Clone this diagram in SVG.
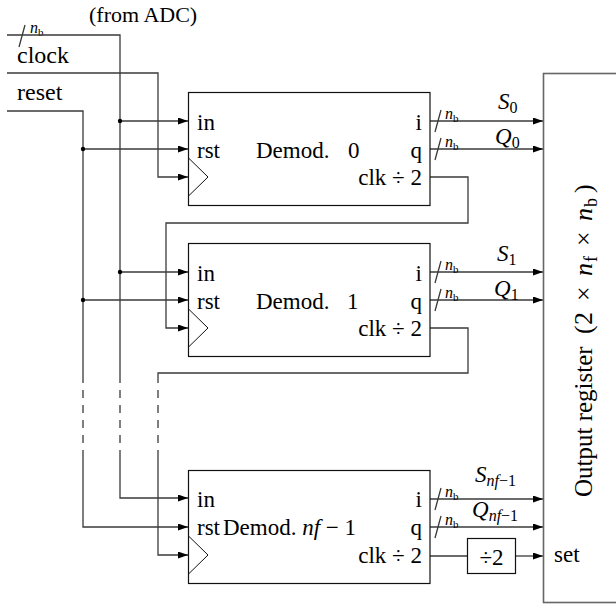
<svg xmlns="http://www.w3.org/2000/svg" width="616" height="608" viewBox="0 0 616 608" font-family="'Liberation Serif', 'Times New Roman', 'DejaVu Serif', serif">
<defs>
<marker id="arr" markerUnits="userSpaceOnUse" markerWidth="11" markerHeight="8" refX="10" refY="3.5" orient="auto">
<path d="M0,0 L10,3.5 L0,7 z" fill="#000"/>
</marker>
<style>
text{fill:#000}
.t{font-size:23px}
.m{font-style:italic}
.lbl{font-size:16px}
.sub{font-size:11px;font-style:normal}
.w{fill:none;stroke:#3a3a3a;stroke-width:1.3}
.a{marker-end:url(#arr)}
.d{stroke-dasharray:8 7}
.blk{fill:#fff;stroke:#111;stroke-width:1.2}
.dot{fill:#000}
</style>
</defs>
<rect width="616" height="608" fill="#fff"/>

<g id="inputs">
<text class="t" x="89" y="22" style="font-size:22px">(from ADC)</text>
<text class="t" x="17" y="63" style="font-size:24px">clock</text>
<text class="t" x="17" y="100" style="font-size:24px">reset</text>
<text class="lbl" x="30" y="33"><tspan class="m">n</tspan><tspan class="sub" dy="3">b</tspan></text>
</g>

<g id="connectors">
<path class="w a" d="M7,35 H120 V383 M120,450 V498 H188"/>
<path class="w a" d="M120,121 H188"/>
<path class="w a" d="M120,272 H188"/>
<path class="w" d="M7,111 H83 V383"/>
<path class="w a" d="M83,450 V527 H188"/>
<path class="w a" d="M83,149 H188"/>
<path class="w a" d="M83,300 H188"/>
<path class="w a" d="M7,73 H158 V177 H188"/>
<path class="w a" d="M430,177 H468 V223 H166 V328 H188"/>
<path class="w" d="M430,328 H468 V373 H158 V383"/>
<path class="w a" d="M158,450 V555 H188"/>
<path class="w d" d="M83,390 V450 M120,390 V450 M158,390 V450"/>
<circle class="dot" cx="120" cy="121" r="2.2"/>
<circle class="dot" cx="120" cy="272" r="2.2"/>
<circle class="dot" cx="83" cy="149" r="2.2"/>
<circle class="dot" cx="83" cy="300" r="2.2"/>
<path class="w" d="M19,47 L25,25"/>
<path class="w a" d="M430,121 H543"/>
<path class="w a" d="M430,149 H543"/>
<path class="w a" d="M430,272 H543"/>
<path class="w a" d="M430,300 H543"/>
<path class="w a" d="M430,499 H543"/>
<path class="w a" d="M430,527 H543"/>
<path class="w" d="M435,132 L441,110 M435,160 L441,138 M435,283 L441,261 M435,311 L441,289 M435,510 L441,488 M435,538 L441,516"/>
<path class="w" d="M430,556 H467"/>
<path class="w a" d="M516,556 H543"/>
</g>

<g id="bus-labels">
<text class="lbl" x="445" y="119"><tspan class="m">n</tspan><tspan class="sub" dy="3">b</tspan></text>
<text class="lbl" x="445" y="147"><tspan class="m">n</tspan><tspan class="sub" dy="3">b</tspan></text>
<text class="lbl" x="445" y="270"><tspan class="m">n</tspan><tspan class="sub" dy="3">b</tspan></text>
<text class="lbl" x="445" y="298"><tspan class="m">n</tspan><tspan class="sub" dy="3">b</tspan></text>
<text class="lbl" x="445" y="497"><tspan class="m">n</tspan><tspan class="sub" dy="3">b</tspan></text>
<text class="lbl" x="445" y="525"><tspan class="m">n</tspan><tspan class="sub" dy="3">b</tspan></text>
<text class="t" x="498" y="109"><tspan class="m">S</tspan><tspan dy="4" style="font-size:16px">0</tspan></text>
<text class="t" x="495" y="144"><tspan class="m">Q</tspan><tspan dy="4" style="font-size:16px">0</tspan></text>
<text class="t" x="497" y="261"><tspan class="m">S</tspan><tspan dy="4" style="font-size:16px">1</tspan></text>
<text class="t" x="494" y="296"><tspan class="m">Q</tspan><tspan dy="4" style="font-size:16px">1</tspan></text>
<text class="t" x="475" y="482"><tspan class="m">S</tspan><tspan dy="4" class="m" style="font-size:16px">nf</tspan><tspan style="font-size:16px">−1</tspan></text>
<text class="t" x="472" y="517"><tspan class="m">Q</tspan><tspan dy="4" class="m" style="font-size:16px">nf</tspan><tspan style="font-size:16px">−1</tspan></text>
</g>

<g id="demod0">
<rect class="blk" x="188.5" y="92.5" width="241.5" height="113"/>
<path class="w" style="stroke:#111;stroke-width:1" d="M188.5,158 L208,177 L188.5,196"/>
<text class="t" x="197" y="130">in</text>
<text class="t" x="197" y="158">rst</text>
<text class="t" x="256" y="158">Demod.</text>
<text class="t" x="348" y="158">0</text>
<text class="t" x="422" y="130" text-anchor="end">i</text>
<text class="t" x="422" y="158" text-anchor="end">q</text>
<text class="t" x="422" y="185" text-anchor="end">clk ÷ 2</text>
</g>

<g id="demod1">
<rect class="blk" x="188.5" y="243.5" width="241.5" height="113"/>
<path class="w" style="stroke:#111;stroke-width:1" d="M188.5,309 L208,328 L188.5,347"/>
<text class="t" x="197" y="281">in</text>
<text class="t" x="197" y="309">rst</text>
<text class="t" x="256" y="309">Demod.</text>
<text class="t" x="347" y="309">1</text>
<text class="t" x="422" y="281" text-anchor="end">i</text>
<text class="t" x="422" y="309" text-anchor="end">q</text>
<text class="t" x="422" y="336" text-anchor="end">clk ÷ 2</text>
</g>

<g id="demodN">
<rect class="blk" x="188.5" y="470.5" width="241.5" height="113"/>
<path class="w" style="stroke:#111;stroke-width:1" d="M188.5,536 L208,555 L188.5,574"/>
<text class="t" x="197" y="507">in</text>
<text class="t" x="197" y="535">rst</text>
<text class="t" x="223" y="535">Demod. <tspan class="m">nf</tspan> − 1</text>
<text class="t" x="422" y="507" text-anchor="end">i</text>
<text class="t" x="422" y="535" text-anchor="end">q</text>
<text class="t" x="422" y="563" text-anchor="end">clk ÷ 2</text>
</g>

<g id="div2">
<rect class="blk" x="467.5" y="538.5" width="48" height="35"/>
<text class="t" x="491.5" y="565" text-anchor="middle">÷2</text>
</g>

<g id="output-register">
<rect x="543.5" y="73.5" width="80" height="529" fill="none" stroke="#666" stroke-width="1.6"/>
<text class="t" x="554" y="562">set</text>
<text style="font-size:26px" transform="rotate(-90 592 338)" y="338"><tspan x="433" style="font-size:25px">Output register</tspan><tspan x="596">(</tspan><tspan x="605">2</tspan><tspan x="629">×</tspan><tspan x="654" class="m">n</tspan><tspan x="668" dy="5" style="font-size:18px">f</tspan><tspan x="684" dy="-5">×</tspan><tspan x="709" class="m">n</tspan><tspan x="723" dy="5" style="font-size:18px">b</tspan><tspan x="737" dy="-5">)</tspan></text>
</g>
</svg>
